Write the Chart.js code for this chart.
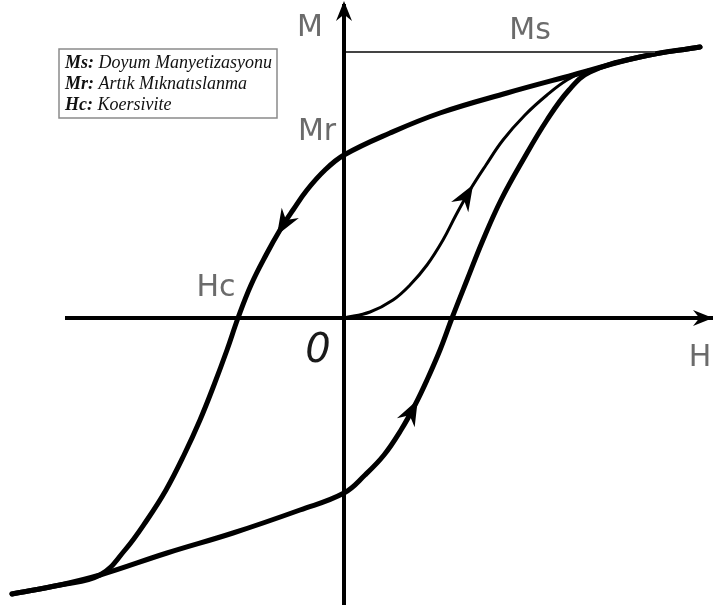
<!DOCTYPE html>
<html>
<head>
<meta charset="utf-8">
<script src="https://cdn.jsdelivr.net/npm/chart.js@4"></script>
<style>
  body { margin: 0; background: #fff; }
  #wrap { width: 715px; height: 614px; }
</style>
</head>
<body>
<div id="wrap"><canvas id="histerezis" width="715" height="614"></canvas></div>
<script>
// H ve M degerleri (keyfi birim)
const inisH = [3.56, 2.96, 2.29, 1.63, 0.96, 0.46, 0, -0.19, -0.37, -0.51, -0.64, -0.78, -0.93, -1.06, -1.17, -1.30, -1.44, -1.60, -1.78, -1.97, -2.19, -2.44, -2.84, -3.32];
const inisM = [2.71, 2.61, 2.43, 2.25, 2.05, 1.85, 1.63, 1.48, 1.28, 1.08, 0.88, 0.63, 0.33, 0, -0.32, -0.67, -1.02, -1.37, -1.72, -2.02, -2.32, -2.57, -2.67, -2.76];

const cikisH = [-3.32, -2.84, -2.44, -1.77, -1.11, -0.44, 0, 0.21, 0.40, 0.57, 0.71, 0.83, 0.96, 1.08, 1.23, 1.39, 1.57, 1.79, 2.03, 2.25, 2.46, 2.96, 3.56];
const cikisM = [-2.76, -2.67, -2.57, -2.35, -2.15, -1.92, -1.75, -1.57, -1.37, -1.12, -0.87, -0.62, -0.32, 0, 0.38, 0.78, 1.18, 1.58, 1.98, 2.28, 2.46, 2.61, 2.71];

const ilkH = [0, 0.26, 0.49, 0.66, 0.83, 0.99, 1.12, 1.26, 1.42, 1.59, 1.81, 2.03, 2.23, 2.44];
const ilkM = [0, 0.06, 0.18, 0.33, 0.53, 0.78, 1.03, 1.28, 1.53, 1.78, 2.03, 2.23, 2.38, 2.48];

const Ms = 2.66, MsSonH = 3.11;
const Mr = 1.63, Hc = -1.06;

// okların egri uzerindeki yeri (veri indisi)
const oklar = [['inis', 10], ['cikis', 10], ['ilk', 7]];

const etiketler = ['Ms: Doyum Manyetizasyonu', 'Mr: Artık Mıknatıslanma', 'Hc: Koersivite'];

const pts = (xs, ys) => xs.map((x, i) => ({x: x, y: ys[i]}));

const egri = (id, data, w) => ({
  id: id, data: data, showLine: true, borderColor: '#000', borderWidth: w,
  pointRadius: 0, tension: 0.4, fill: false,
  borderCapStyle: 'round', borderJoinStyle: 'round'
});

const duz = (data, w, c) => ({
  data: data, showLine: true, borderColor: c, borderWidth: w, pointRadius: 0, tension: 0, fill: false
});

function okCiz(ctx, x, y, ang, L, W) {
  ctx.save();
  ctx.translate(x, y);
  ctx.rotate(ang);
  ctx.beginPath();
  ctx.moveTo(0, 0);
  ctx.lineTo(-L, -W);
  ctx.lineTo(-L * 0.68, 0);
  ctx.lineTo(-L, W);
  ctx.closePath();
  ctx.fillStyle = '#000';
  ctx.fill();
  ctx.restore();
}

const cizimler = {
  id: 'cizimler',
  afterDatasetsDraw(chart) {
    const ctx = chart.ctx;
    const sx = chart.scales.x, sy = chart.scales.y;
    const px = v => sx.getPixelForValue(v), py = v => sy.getPixelForValue(v);

    // egri oklari
    oklar.forEach(([id, i]) => {
      const ds = chart.data.datasets.find(d => d.id === id);
      const a = ds.data[i - 1], b = ds.data[i + 1], c = ds.data[i];
      const ang = Math.atan2(py(b.y) - py(a.y), px(b.x) - px(a.x));
      okCiz(ctx, px(c.x) + Math.cos(ang) * 6, py(c.y) + Math.sin(ang) * 6, ang, 26, 10);
    });

    // eksen oklari
    okCiz(ctx, sx.right - 2, py(0), 0, 20, 8);
    okCiz(ctx, px(0), sy.top + 1, -Math.PI / 2, 20, 8);

    // eksen yazilari
    ctx.save();
    ctx.fillStyle = '#6b6b6b';
    ctx.font = '30px "DejaVu Sans"';
    ctx.textAlign = 'center';
    ctx.textBaseline = 'middle';
    ctx.fillText('M', px(0) - 34, 28);
    ctx.fillText('Ms', px(MsSonH) - 125, py(Ms) - 21);
    ctx.fillText('Mr', px(0) - 27, py(Mr) - 23);
    ctx.fillText('Hc', px(Hc) - 22, py(0) - 30);
    ctx.fillText('H', sx.right - 15, py(0) + 40);
    ctx.fillStyle = '#1a1a1a';
    ctx.font = 'italic 40px "DejaVu Sans"';
    ctx.fillText('0', px(0) - 26, py(0) + 34);
    ctx.restore();

    // aciklama kutusu
    ctx.save();
    ctx.fillStyle = '#fff';
    ctx.fillRect(59, 49, 218, 69);
    ctx.strokeStyle = '#8a8a8a';
    ctx.lineWidth = 1.5;
    ctx.strokeRect(59, 49, 218, 69);
    ctx.fillStyle = '#111';
    ctx.textBaseline = 'alphabetic';
    etiketler.forEach((t, k) => {
      const j = t.indexOf(':') + 1;
      const y = 68 + k * 21;
      ctx.font = 'bold italic 18px "Liberation Serif"';
      ctx.fillText(t.slice(0, j), 65, y);
      const w = ctx.measureText(t.slice(0, j)).width;
      ctx.font = 'italic 18px "Liberation Serif"';
      ctx.fillText(t.slice(j), 65 + w, y);
    });
    ctx.restore();
  }
};

new Chart(document.getElementById('histerezis'), {
  type: 'scatter',
  data: {
    datasets: [
      duz([{x: -2.79, y: 0}, {x: 3.69, y: 0}], 4, '#000'),
      duz([{x: 0, y: -2.87}, {x: 0, y: 3.14}], 4, '#000'),
      duz([{x: 0, y: Ms}, {x: MsSonH, y: Ms}], 2, '#444'),
      egri('ilk', pts(ilkH, ilkM), 3),
      egri('inis', pts(inisH, inisM), 5),
      egri('cikis', pts(cikisH, cikisM), 5)
    ]
  },
  options: {
    responsive: false,
    animation: false,
    layout: { padding: 0 },
    plugins: { legend: { display: false }, tooltip: { enabled: false } },
    scales: {
      x: { type: 'linear', display: false, min: -3.44, max: 3.71 },
      y: { type: 'linear', display: false, min: -2.96, max: 3.18 }
    }
  },
  plugins: [cizimler]
});
</script>
</body>
</html>
